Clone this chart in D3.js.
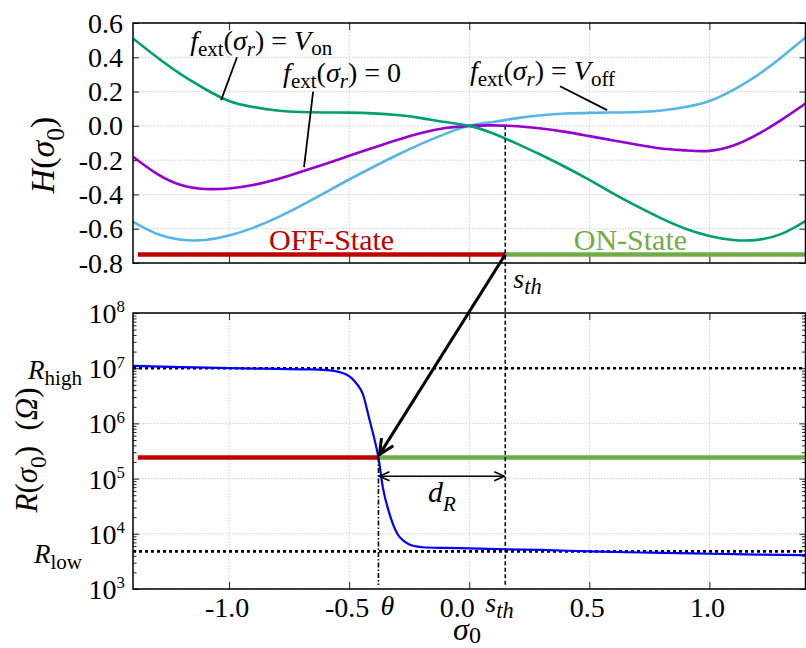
<!DOCTYPE html>
<html>
<head>
<meta charset="utf-8">
<script src="https://cdn.jsdelivr.net/npm/d3@7"></script>
<style>
body{margin:0;background:#fff}
svg{display:block}
text{font-family:"Liberation Serif","Times New Roman",serif;white-space:pre;fill:#000}
</style>
</head>
<body>
<script>
// ---- data ----
const sigma = [-1.4,-1.3,-1.2,-1.1,-1.0,-0.9,-0.8,-0.7,-0.6,-0.5,-0.4,-0.3,-0.2,-0.1,0,
               0.1,0.2,0.3,0.4,0.5,0.6,0.7,0.8,0.9,1.0,1.1,1.2,1.3,1.4];
const hOn   = [0.51,0.40,0.30,0.215,0.145,0.11,0.09,0.081,0.078,0.077,0.073,0.063,0.045,0.022,0,
               -0.045,-0.105,-0.17,-0.24,-0.315,-0.395,-0.47,-0.54,-0.6,-0.642,-0.666,-0.665,-0.63,-0.555];
const hZero = [-0.18,-0.28,-0.345,-0.368,-0.365,-0.345,-0.312,-0.268,-0.222,-0.175,-0.128,-0.082,-0.042,-0.013,0,
               0.003,-0.002,-0.015,-0.035,-0.06,-0.085,-0.11,-0.132,-0.143,-0.146,-0.115,-0.05,0.035,0.13];
const hOff  = [-0.56,-0.63,-0.664,-0.666,-0.64,-0.595,-0.535,-0.465,-0.39,-0.313,-0.24,-0.17,-0.105,-0.047,0,
               0.023,0.045,0.062,0.072,0.076,0.078,0.081,0.09,0.11,0.145,0.21,0.295,0.40,0.515];

const sigmaR = [-1.4,-1.2,-1.0,-0.8,-0.66,-0.58,-0.54,-0.51,-0.49,-0.47,-0.443,-0.415,-0.394,-0.378,-0.36,-0.332,
                -0.297,-0.27,-0.249,-0.22,-0.194,-0.1,0.0,0.152,0.3,0.5,0.75,1.0,1.2,1.4];
const rCurve = [1.1e7,1.05e7,1.0e7,9.7e6,9.5e6,9.1e6,8.5e6,7.6e6,6.6e6,5.3e6,3.4e6,1.15e6,5e5,2.4e5,7e4,2.3e4,
                9.6e3,7.3e3,6.4e3,5.9e3,5.7e3,5.55e3,5.45e3,5.25e3,5.1e3,4.8e3,4.55e3,4.35e3,4.2e3,4.1e3];

const xTicks = [-1.0,-0.5,0.0,0.5,1.0];
const xTickLabels = ["-1.0","-0.5","0.0","0.5","1.0"];
const hTicks = [0.6,0.4,0.2,0.0,-0.2,-0.4,-0.6,-0.8];
const hTickLabels = ["0.6","0.4","0.2","0.0","-0.2","-0.4","-0.6","-0.8"];
const rExps = [3,4,5,6,7,8];

const theta = -0.378, sTh = 0.15;
const stateStart = -1.38, stateH = -0.75, stateR = 2.4e5;
const rHigh = 1e7, rLow = 4.8e3, dRLevel = 1.1e5;

// ---- layout ----
const W = 806, Hgt = 648;
const left = 133, right = 805.5;
const hTop = 23, hBot = 263, rTop = 313, rBot = 589;

const x = d3.scaleLinear().domain([-1.4,1.4]).range([left,right]);
const yH = d3.scaleLinear().domain([-0.8,0.6]).range([hBot,hTop]);
const yR = d3.scaleLog().domain([1e3,1e8]).range([rBot,rTop]);

const svg = d3.select("body").append("svg").attr("width",W).attr("height",Hgt);

const defs = svg.append("defs");
defs.append("clipPath").attr("id","clipH").append("rect")
    .attr("x",left).attr("y",hTop).attr("width",right-left).attr("height",hBot-hTop);
defs.append("clipPath").attr("id","clipR").append("rect")
    .attr("x",left).attr("y",rTop).attr("width",right-left).attr("height",rBot-rTop);
defs.append("marker").attr("id","bigHead").attr("markerUnits","userSpaceOnUse")
    .attr("viewBox","0 0 20 20").attr("refX",18).attr("refY",10)
    .attr("markerWidth",20).attr("markerHeight",20).attr("orient","auto")
    .append("path").attr("d","M3,3 L18,10 L3,17").attr("fill","none")
    .attr("stroke","#000").attr("stroke-width",3);
defs.append("marker").attr("id","smallHead").attr("markerUnits","userSpaceOnUse")
    .attr("viewBox","0 0 12 12").attr("refX",11).attr("refY",6)
    .attr("markerWidth",12).attr("markerHeight",12).attr("orient","auto-start-reverse")
    .append("path").attr("d","M1,1.5 L11,6 L1,10.5").attr("fill","none")
    .attr("stroke","#000").attr("stroke-width",1.6);

// text with italic / sub / sup runs
function rich(parent, px, py, size, parts, anchor){
    const t = parent.append("text").attr("x",px).attr("y",py)
        .attr("font-size",size).attr("text-anchor",anchor || "start");
    let off = 0;
    parts.forEach(function(p){
        const target = p.sub ? size*(p.d || 0.28) : (p.sup ? -size*0.38 : 0);
        t.append("tspan").attr("dy",target-off)
            .attr("font-size",(p.sub || p.sup) ? size*(p.s || 0.75) : size)
            .attr("font-style",p.i ? "italic" : "normal")
            .text(p.t);
        off = target;
    });
    return t;
}

function gridAndTicks(g, yScale, yVals, minorVals, y0, y1){
    const grid = g.append("g").attr("stroke","#c4c4c4").attr("stroke-width",0.8)
        .attr("stroke-dasharray","1.5,1.5");
    grid.selectAll(".vx").data(xTicks).enter().append("line")
        .attr("x1",d=>x(d)).attr("x2",d=>x(d)).attr("y1",y0).attr("y2",y1);
    grid.selectAll(".hy").data(yVals).enter().append("line")
        .attr("x1",left).attr("x2",right).attr("y1",d=>yScale(d)).attr("y2",d=>yScale(d));

    const ax = [
        g.append("g").attr("transform","translate(0,"+y0+")").call(d3.axisBottom(x).tickValues(xTicks).tickSize(7).tickFormat("")),
        g.append("g").attr("transform","translate(0,"+y1+")").call(d3.axisTop(x).tickValues(xTicks).tickSize(7).tickFormat("")),
        g.append("g").attr("transform","translate("+left+",0)").call(d3.axisRight(yScale).tickValues(yVals).tickSize(6).tickFormat("")),
        g.append("g").attr("transform","translate("+right+",0)").call(d3.axisLeft(yScale).tickValues(yVals).tickSize(6).tickFormat(""))
    ];
    if (minorVals){
        ax.push(g.append("g").attr("transform","translate("+left+",0)").call(d3.axisRight(yScale).tickValues(minorVals).tickSize(3.5).tickFormat("")));
        ax.push(g.append("g").attr("transform","translate("+right+",0)").call(d3.axisLeft(yScale).tickValues(minorVals).tickSize(3.5).tickFormat("")));
    }
    ax.forEach(function(a){
        a.select(".domain").remove();
        a.selectAll("line").attr("stroke","#222").attr("stroke-width",1);
    });
}

// ================= top panel: H(sigma0) =================
const gH = svg.append("g");
gridAndTicks(gH, yH, hTicks, null, hTop, hBot);

const lineH = d3.line().x((d,i)=>x(sigma[i])).y(d=>yH(d)).curve(d3.curveNatural);
const curves = gH.append("g").attr("clip-path","url(#clipH)").attr("fill","none").attr("stroke-width",2.6);
curves.append("path").attr("d",lineH(hOff)).attr("stroke","#56b4e9");
curves.append("path").attr("d",lineH(hZero)).attr("stroke","#9400d3");
curves.append("path").attr("d",lineH(hOn)).attr("stroke","#009e73");

// state bars
gH.append("line").attr("x1",x(stateStart)).attr("x2",x(sTh)).attr("y1",yH(stateH)).attr("y2",yH(stateH))
    .attr("stroke","#c00000").attr("stroke-width",4.5);
gH.append("line").attr("x1",x(sTh)).attr("x2",right).attr("y1",yH(stateH)).attr("y2",yH(stateH))
    .attr("stroke","#70ad47").attr("stroke-width",4.5);
gH.append("text").attr("x",x(-0.573)).attr("y",yH(-0.725)).attr("text-anchor","middle")
    .attr("font-size",30).style("fill","#c00000").text("OFF-State");
gH.append("text").attr("x",x(0.671)).attr("y",yH(-0.725)).attr("text-anchor","middle")
    .attr("font-size",30).style("fill","#70ad47").text("ON-State");

gH.append("rect").attr("x",left).attr("y",hTop).attr("width",right-left).attr("height",hBot-hTop)
    .attr("fill","none").attr("stroke","#000").attr("stroke-width",1.5);

// y tick labels
hTicks.forEach(function(v,i){
    gH.append("text").attr("x",left-10).attr("y",yH(v)+9.5).attr("text-anchor","end")
        .attr("font-size",28).text(hTickLabels[i]);
});
rich(gH, 0, 0, 34, [{t:"H",i:true},{t:"("},{t:"σ",i:true},{t:"0",sub:true},{t:")"}], "middle")
    .attr("transform","translate(54,155) rotate(-90)");

// curve annotations
const ann = gH.append("g");
function leader(a,b){
    ann.append("line").attr("x1",x(a[0])).attr("y1",yH(a[1])).attr("x2",x(b[0])).attr("y2",yH(b[1]))
        .attr("stroke","#000").attr("stroke-width",1.8);
}
function fext(){ return [{t:"f",i:true},{t:"ext",sub:true,d:0.22},{t:"("},{t:"σ",i:true},{t:"r",i:true,sub:true,d:0.22},{t:")"}]; }
rich(ann, x(-1.162), yH(0.445), 28, fext().concat([{t:" = "},{t:"V",i:true},{t:"on",sub:true,d:0.2}]));
rich(ann, x(-0.775), yH(0.255), 28, fext().concat([{t:" = 0"}]));
rich(ann, x(0.003), yH(0.27), 28, fext().concat([{t:" = "},{t:"V",i:true},{t:"off",sub:true,d:0.22}]));
leader([-0.967,0.40],[-1.033,0.15]);
leader([-0.65,0.20],[-0.688,-0.241]);
leader([0.378,0.231],[0.574,0.092]);

// ================= bottom panel: R(sigma0) =================
const gR = svg.append("g");
const minor = [];
for (let e = 3; e < 8; e++) for (let m = 2; m < 10; m++) minor.push(m*Math.pow(10,e));
const majors = rExps.map(e=>Math.pow(10,e));
gridAndTicks(gR, yR, majors, minor, rTop, rBot);

// R_high / R_low dotted
[rHigh, rLow].forEach(function(v){
    gR.append("line").attr("x1",left).attr("x2",right).attr("y1",yR(v)).attr("y2",yR(v))
        .attr("stroke","#000").attr("stroke-width",2.6).attr("stroke-dasharray","3,3");
});

// state bars in R panel
gR.append("line").attr("x1",x(stateStart)).attr("x2",x(theta)).attr("y1",yR(stateR)).attr("y2",yR(stateR))
    .attr("stroke","#c00000").attr("stroke-width",4.5);
gR.append("line").attr("x1",x(theta)).attr("x2",right).attr("y1",yR(stateR)).attr("y2",yR(stateR))
    .attr("stroke","#70ad47").attr("stroke-width",4.5);

const lineR = d3.line().x((d,i)=>x(sigmaR[i])).y(d=>yR(d)).curve(d3.curveMonotoneX);
gR.append("path").attr("clip-path","url(#clipR)").attr("d",lineR(rCurve))
    .attr("fill","none").attr("stroke","#0000ff").attr("stroke-width",2.2);

gR.append("rect").attr("x",left).attr("y",rTop).attr("width",right-left).attr("height",rBot-rTop)
    .attr("fill","none").attr("stroke","#000").attr("stroke-width",1.5);

// dashed markers for theta and s_th
svg.append("line").attr("x1",x(sTh)).attr("x2",x(sTh)).attr("y1",yH(0)).attr("y2",rBot-4)
    .attr("stroke","#000").attr("stroke-width",1.6).attr("stroke-dasharray","4,2.5");
svg.append("line").attr("x1",x(theta)).attr("x2",x(theta)).attr("y1",yR(stateR)).attr("y2",rBot-4)
    .attr("stroke","#000").attr("stroke-width",1.6).attr("stroke-dasharray","5,2,1.5,2");

// big arrow from s_th on the state bar down to theta
svg.append("line").attr("x1",x(sTh)).attr("y1",yH(stateH))
    .attr("x2",x(theta)+1).attr("y2",yR(stateR)-3)
    .attr("stroke","#000").attr("stroke-width",3).attr("marker-end","url(#bigHead)");
// d_R double arrow
svg.append("line").attr("x1",x(theta)+1).attr("x2",x(sTh)-1).attr("y1",yR(dRLevel)).attr("y2",yR(dRLevel))
    .attr("stroke","#000").attr("stroke-width",1.6)
    .attr("marker-start","url(#smallHead)").attr("marker-end","url(#smallHead)");
rich(svg, (x(theta)+x(sTh))/2, yR(dRLevel)+26, 30, [{t:"d",i:true},{t:"R",i:true,sub:true,s:0.7}], "middle");
rich(svg, x(sTh)+8, 288, 28, [{t:"s",i:true},{t:"th",i:true,sub:true,s:0.8,d:0.22}]);

// y tick labels (powers of ten)
rExps.forEach(function(e){
    rich(gR, left-8, yR(Math.pow(10,e))+10, 28, [{t:"10"},{t:String(e),sup:true,s:0.6}], "end");
});
rich(gR, 82, yR(rHigh)+11, 27, [{t:"R",i:true},{t:"high",sub:true,s:0.78,d:0.2}], "end");
rich(gR, 82, yR(rLow)+12, 27, [{t:"R",i:true},{t:"low",sub:true,s:0.78,d:0.2}], "end");
rich(gR, 0, 0, 31, [{t:"R",i:true},{t:"("},{t:"σ",i:true},{t:"0",sub:true},{t:")  ("},{t:"Ω",i:true},{t:")"}], "middle")
    .attr("transform","translate(37,450) rotate(-90)");

// x tick labels
xTicks.forEach(function(v,i){
    gR.append("text").attr("x",x(v)+(v===0 ? -12 : -2)).attr("y",617).attr("text-anchor","middle")
        .attr("font-size",28).text(xTickLabels[i]);
});
rich(gR, x(theta)+2, 615, 28, [{t:"θ",i:true}]);
rich(gR, x(sTh)-20, 612, 28, [{t:"s",i:true},{t:"th",i:true,sub:true,s:0.8,d:0.2}]);
rich(gR, 467, 640, 32, [{t:"σ",i:true},{t:"0",sub:true,d:0.1}], "middle");
</script>
</body>
</html>
